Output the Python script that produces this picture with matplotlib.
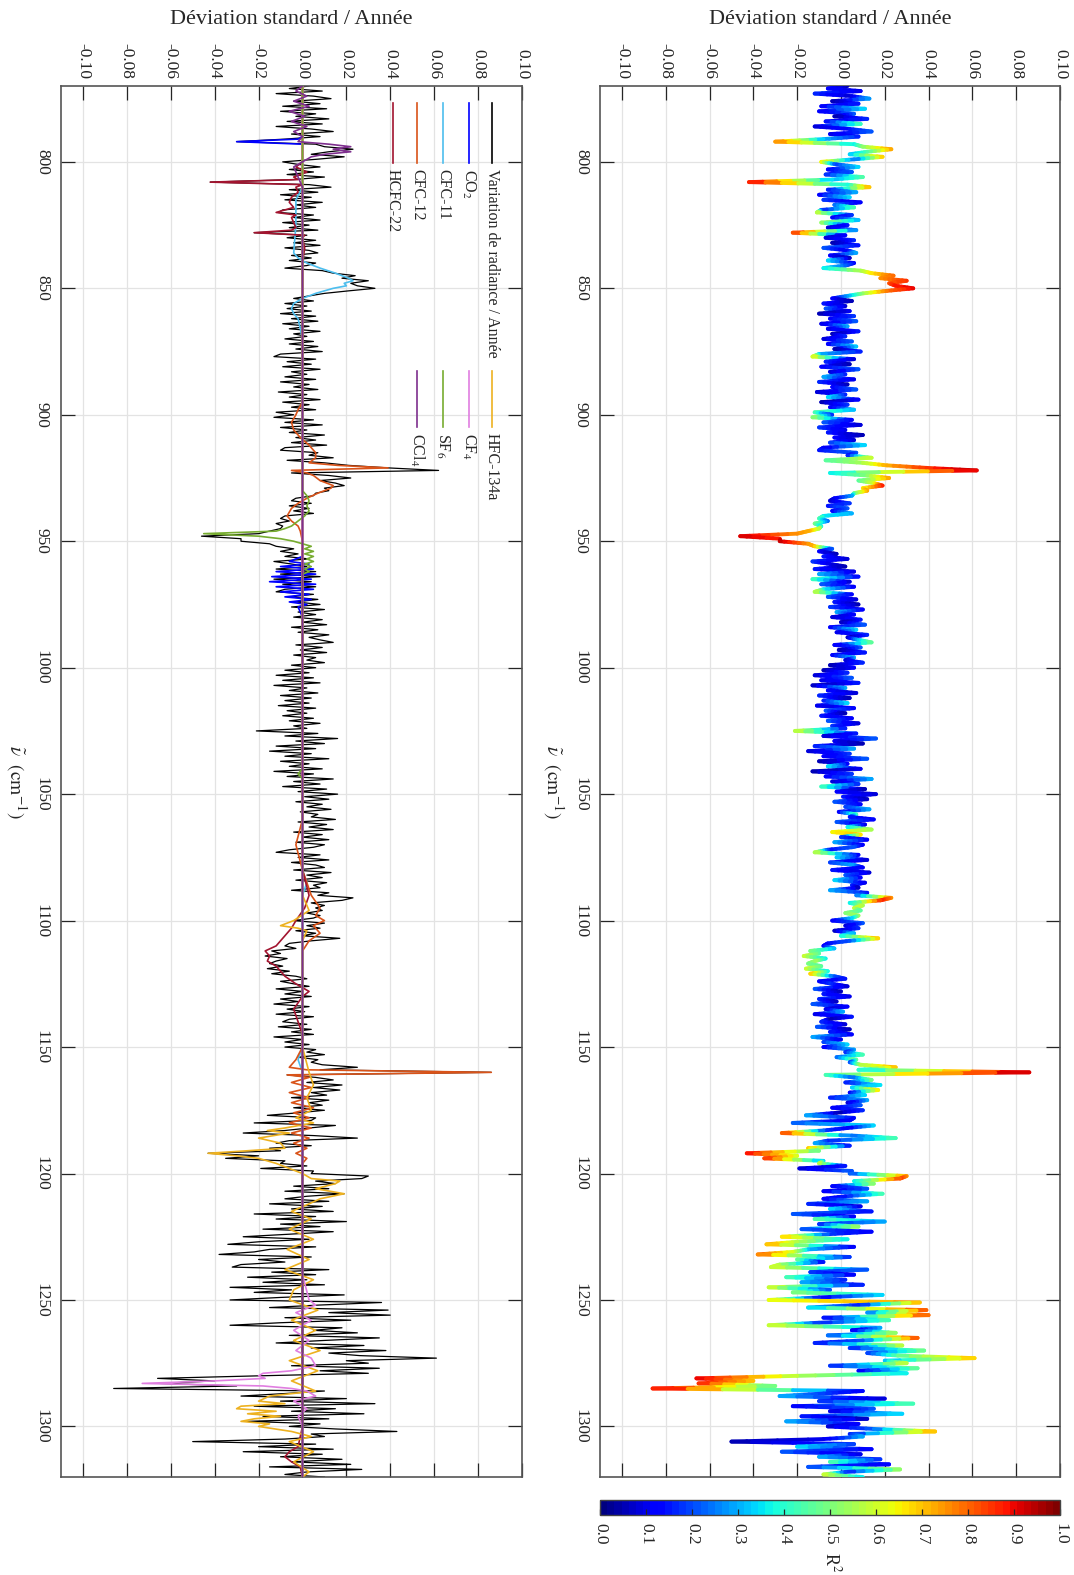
import numpy as np
import matplotlib
matplotlib.use('Agg')
import matplotlib.pyplot as plt
from matplotlib.collections import LineCollection
from matplotlib.lines import Line2D
from matplotlib.colors import Normalize
from matplotlib.cm import ScalarMappable

plt.rcParams['font.family'] = ['Liberation Serif', 'DejaVu Serif']
plt.rcParams['mathtext.fontset'] = 'stix'
plt.rcParams['axes.unicode_minus'] = False

# ---------------- DATA ----------------
# wavenumber sampling (cm^-1), 1 cm^-1 steps
wavenumber = np.arange(770, 1321, 1)

# radiance variation / year, in units of 1e-3 (one value per wavenumber)
radiance_milli = [
    3, -6, 9, -12, 5, 13, -4, 8, -9, 11,            # 770
    -10, 6, -3, 12, -7, 9, -12, 4, 14, -5,          # 780
    8, -8, -30, 6, 10, 23, 12, 4, 19, 6,            # 790
    -9, -2, 8, -6, 5, -7, 10, -4, -42, 3,           # 800
    13, -6, 7, -10, 4, -8, 9, -3, 6, -9,            # 810
    -11, 5, -4, 8, -9, 3, -6, 7, -22, 2,            # 820
    -7, 6, -4, 8, -8, 3, 7, -5, 4, -6,              # 830
    6, 2, -8, 9, 14, 24, 18, 30, 22, 25,            # 840
    33, 21, 10, 3, -4, 5, -8, 2, -7, 4,             # 850
    -10, 6, -5, 7, -9, 3, -6, 8, -4, 2,             # 860
    -8, 5, -6, 7, -3, 9, -10, -13, 6, -7,           # 870
    4, -9, 8, -5, 2, -8, 6, -10, 3, -4,             # 880
    7, -11, 2, -6, 8, -9, 3, -5, 6, -12,            # 890
    -4, -13, 5, -8, 9, -10, 2, -6, 10, -3,          # 900
    6, -5, 11, -8, -10, 7, 3, 14, -7, 10,           # 910
    21, 39, 62, -5, 12, 22, 8, 15, 19, 10,          # 920
    12, 6, 5, -3, -5, 4, -6, 3, -4, 5,              # 930
    -8, -10, -6, -12, -9, -10, -15, -20, -46, -28,  # 940
    -28, -15, -12, -4, -10, -2, -8, 3, -13, -5,     # 950
    2, -12, 6, -10, 8, -13, 4, -9, 6, -8,           # 960
    -12, 5, -6, 7, -3, 8, -5, 10, -2, 6,            # 970
    -4, 9, 0, 11, -5, 7, -2, 12, 3, 8,              # 980
    14, -3, 9, -1, 11, -4, 6, 2, 10, -5,            # 990
    6, -8, 3, -12, 5, -9, 8, -13, 2, -6,            # 1000
    7, -10, 4, -8, 3, -11, 6, -7, 2, -9,            # 1010
    5, -6, 8, -4, 2, -21, 7, -8, 16, -3,            # 1020
    10, -12, 6, -15, 4, -8, 12, -10, 3, -6,         # 1030
    9, -13, 5, -7, 14, -4, 8, -9, 11, -2,           # 1040
    16, 1, 12, -3, 9, 2, 13, -1, 7, 4,              # 1050
    15, -2, 11, 3, 14, -4, 9, 0, 12, -3,            # 1060
    10, 5, -6, -12, 8, -2, 12, -5, 6, 10,           # 1070
    -4, 13, 2, 9, -3, 11, 5, 8, -5, 12,             # 1080
    7, 23, 18, 4, 10, 6, 9, 2, 8, 5,                # 1090
    -4, 10, 2, 8, -3, 6, 0, 17, 4, -6,              # 1100
    -8, -3, -14, -10, -17, -7, -12, -15, -9, -16,   # 1110
    -6, -14, -3, 2, -10, -4, 3, -12, 0, -8,         # 1120
    4, -10, -2, -13, 3, -7, 1, -12, 5, -6,          # 1130
    -9, 2, -11, 4, -5, 5, -13, 0, -8, 3,            # 1140
    -8, 6, 2, 10, -2, 7, 4, 9, 25, 8,               # 1150
    86, -7, 6, 14, 2, 18, 5, 17, 4, 11,             # 1160
    -5, 12, 3, 9, -4, 10, -2, -16, 6, 4,            # 1170
    -22, 15, 3, -8, -27, 5, 25, -6, -12, 4,         # 1180
    -15, -10, -43, -20, -35, -8, -10, 2, -19, 5,    # 1190
    4, 30, 27, 6, 15, -4, 12, -8, 19, 2,            # 1200
    -8, 12, -15, 9, -5, 14, -22, 6, -12, 20,        # 1210
    -10, 8, -18, 14, -6, -27, 3, -20, -34, 6,       # 1220
    -15, -22, -38, 4, -20, -8, -28, -32, 12, -14,   # 1230
    6, -25, 2, -18, 10, -33, -5, -22, 19, -10,      # 1240
    -33, 36, 8, -15, 39, 12, 40, -8, 22, -10,       # 1250
    -33, 18, 5, 25, -6, 35, 10, -12, 28, 4,         # 1260
    38, 12, 26, 61, 20, 30, -5, 35, 8, 30,          # 1270
    -20, -66, -40, -65, -30, -86, 10, -8, -28, 20,  # 1280
    -10, 33, -22, 15, -5, 28, -18, 12, -25, 8,      # 1290
    -6, 15, 43, 4, 10, -8, -50, 6, -20, 14,         # 1300
    -27, 9, -10, 18, -5, 22, -15, 27, 2, -8,        # 1310
    10,                                             # 1320
]

# coefficient of determination R^2 (one value per wavenumber)
r_squared = [
    0.05, 0.12, 0.10, 0.18, 0.08, 0.30, 0.05, 0.15, 0.12, 0.35,
    0.10, 0.22, 0.05, 0.16, 0.12, 0.45, 0.08, 0.14, 0.22, 0.10,
    0.15, 0.30, 0.78, 0.35, 0.50, 0.75, 0.45, 0.30, 0.72, 0.22,
    0.68, 0.18, 0.35, 0.12, 0.22, 0.15, 0.45, 0.30, 0.92, 0.35,
    0.75, 0.15, 0.30, 0.12, 0.35, 0.18, 0.10, 0.22, 0.45, 0.15,
    0.60, 0.18, 0.12, 0.30, 0.55, 0.15, 0.08, 0.22, 0.88, 0.12,
    0.08, 0.18, 0.05, 0.15, 0.22, 0.10, 0.30, 0.12, 0.05, 0.35,
    0.12, 0.22, 0.35, 0.55, 0.65, 0.80, 0.75, 0.85, 0.82, 0.88,
    0.90, 0.80, 0.55, 0.30, 0.12, 0.05, 0.15, 0.08, 0.22, 0.10,
    0.05, 0.18, 0.12, 0.22, 0.08, 0.30, 0.10, 0.15, 0.05, 0.18,
    0.08, 0.22, 0.12, 0.35, 0.05, 0.15, 0.30, 0.65, 0.08, 0.18,
    0.05, 0.12, 0.22, 0.08, 0.15, 0.30, 0.10, 0.18, 0.05, 0.12,
    0.22, 0.08, 0.15, 0.35, 0.12, 0.05, 0.18, 0.10, 0.30, 0.45,
    0.15, 0.55, 0.12, 0.22, 0.08, 0.18, 0.10, 0.15, 0.05, 0.12,
    0.08, 0.18, 0.35, 0.10, 0.15, 0.22, 0.12, 0.60, 0.45, 0.55,
    0.72, 0.85, 0.95, 0.35, 0.50, 0.75, 0.45, 0.60, 0.88, 0.65,
    0.75, 0.50, 0.30, 0.12, 0.08, 0.18, 0.15, 0.22, 0.12, 0.30,
    0.35, 0.45, 0.22, 0.50, 0.35, 0.55, 0.72, 0.75, 0.92, 0.88,
    0.95, 0.75, 0.72, 0.22, 0.12, 0.05, 0.15, 0.08, 0.18, 0.10,
    0.05, 0.15, 0.08, 0.30, 0.12, 0.45, 0.08, 0.22, 0.10, 0.35,
    0.60, 0.12, 0.22, 0.08, 0.15, 0.05, 0.18, 0.10, 0.30, 0.12,
    0.08, 0.15, 0.05, 0.22, 0.12, 0.35, 0.10, 0.18, 0.05, 0.30,
    0.50, 0.10, 0.22, 0.05, 0.15, 0.12, 0.30, 0.08, 0.18, 0.05,
    0.12, 0.05, 0.18, 0.08, 0.22, 0.10, 0.15, 0.05, 0.30, 0.12,
    0.08, 0.18, 0.05, 0.15, 0.35, 0.10, 0.12, 0.22, 0.05, 0.15,
    0.10, 0.22, 0.08, 0.18, 0.12, 0.60, 0.15, 0.08, 0.22, 0.10,
    0.05, 0.15, 0.30, 0.08, 0.18, 0.10, 0.22, 0.05, 0.12, 0.35,
    0.10, 0.05, 0.18, 0.12, 0.30, 0.08, 0.15, 0.45, 0.05, 0.12,
    0.08, 0.15, 0.05, 0.22, 0.12, 0.18, 0.30, 0.10, 0.45, 0.15,
    0.12, 0.22, 0.08, 0.35, 0.55, 0.65, 0.70, 0.18, 0.12, 0.30,
    0.10, 0.22, 0.15, 0.60, 0.12, 0.35, 0.08, 0.18, 0.30, 0.12,
    0.15, 0.08, 0.22, 0.12, 0.35, 0.10, 0.18, 0.05, 0.30, 0.15,
    0.22, 0.75, 0.88, 0.35, 0.55, 0.60, 0.45, 0.50, 0.55, 0.35,
    0.12, 0.22, 0.08, 0.18, 0.05, 0.30, 0.35, 0.72, 0.22, 0.15,
    0.12, 0.30, 0.50, 0.45, 0.60, 0.35, 0.55, 0.50, 0.45, 0.60,
    0.35, 0.72, 0.22, 0.15, 0.12, 0.18, 0.08, 0.22, 0.05, 0.15,
    0.10, 0.18, 0.05, 0.22, 0.12, 0.08, 0.30, 0.10, 0.15, 0.05,
    0.18, 0.08, 0.22, 0.05, 0.15, 0.12, 0.30, 0.10, 0.18, 0.35,
    0.12, 0.30, 0.15, 0.45, 0.22, 0.50, 0.18, 0.55, 0.72, 0.35,
    0.95, 0.45, 0.22, 0.50, 0.15, 0.35, 0.30, 0.70, 0.12, 0.35,
    0.15, 0.30, 0.08, 0.22, 0.12, 0.18, 0.05, 0.30, 0.15, 0.10,
    0.22, 0.35, 0.12, 0.18, 0.85, 0.22, 0.45, 0.15, 0.30, 0.12,
    0.72, 0.45, 0.90, 0.60, 0.88, 0.30, 0.60, 0.15, 0.08, 0.22,
    0.18, 0.75, 0.85, 0.35, 0.55, 0.12, 0.22, 0.08, 0.45, 0.15,
    0.12, 0.30, 0.18, 0.08, 0.35, 0.15, 0.22, 0.10, 0.45, 0.30,
    0.15, 0.55, 0.22, 0.12, 0.18, 0.70, 0.35, 0.55, 0.75, 0.12,
    0.30, 0.60, 0.82, 0.15, 0.50, 0.12, 0.55, 0.62, 0.22, 0.18,
    0.10, 0.45, 0.15, 0.30, 0.12, 0.62, 0.18, 0.50, 0.35, 0.12,
    0.62, 0.75, 0.15, 0.30, 0.85, 0.22, 0.85, 0.12, 0.45, 0.15,
    0.62, 0.30, 0.08, 0.55, 0.18, 0.85, 0.22, 0.12, 0.60, 0.15,
    0.50, 0.18, 0.45, 0.72, 0.30, 0.60, 0.15, 0.50, 0.12, 0.35,
    0.55, 0.92, 0.70, 0.88, 0.45, 0.93, 0.12, 0.18, 0.30, 0.08,
    0.15, 0.45, 0.12, 0.22, 0.08, 0.35, 0.15, 0.05, 0.30, 0.12,
    0.08, 0.22, 0.75, 0.15, 0.30, 0.10, 0.05, 0.18, 0.35, 0.12,
    0.22, 0.08, 0.30, 0.15, 0.45, 0.12, 0.18, 0.55, 0.15, 0.60,
    0.35,
]

# gas contributions (wavenumber, value in 1e-3)
co2 = [(770, 0), (786, 0), (790, 0), (791, -2), (792, -30), (793, 0), (796, 0), (840, 0),
       (956, 0), (957, -3), (958, -6), (959, 3), (960, -10), (961, 5), (962, -12), (963, 6),
       (964, -14), (965, 4), (966, -15), (967, 6), (968, -12), (969, 5), (970, -10), (971, 3),
       (972, -8), (973, 4), (974, -6), (975, 2), (976, -2), (980, 0), (1320, 0)]
cfc11 = [(770, 0), (810, 0), (815, -3), (825, -3), (836, -4), (838, -2), (840, 2), (842, 8),
         (844, 15), (846, 21), (847, 23), (848, 19), (849, 20), (850, 14), (852, 6), (854, 0),
         (856, -4), (858, -5), (860, -4), (862, -2), (866, -1), (870, 0), (1080, 0), (1085, 2),
         (1090, 0), (1150, 0), (1155, -2), (1160, 0), (1320, 0)]
cfc12 = [(770, 0), (895, 0), (898, -2), (900, -3), (903, -5), (906, -4), (909, -1), (912, 3),
         (915, 6), (917, 6), (919, 3), (920, 16), (921, 39), (922, -5), (923, 2), (924, 5),
         (926, 8), (928, 14), (929, 13), (931, 7), (933, 2), (935, -2), (937, -5), (940, -7),
         (942, -5), (944, -2), (946, -1), (950, 0), (1060, 0), (1070, -3), (1080, 0), (1090, 4),
         (1095, 8), (1098, 6), (1100, 10), (1102, 5), (1105, 8), (1108, 3), (1112, 0), (1150, 0),
         (1155, -3), (1158, -6), (1159, 2), (1160, 86), (1161, -7), (1162, 3), (1164, -5),
         (1166, 4), (1168, -6), (1170, 3), (1172, -5), (1174, 5), (1176, -4), (1178, 3),
         (1180, -6), (1182, 4), (1184, -5), (1186, 3), (1188, -4), (1190, 2), (1192, -3),
         (1194, 2), (1196, 0), (1320, 0)]
hcfc22 = [(770, 0), (800, 0), (802, -3), (804, 2), (806, -4), (807, -2), (808, -42), (809, 0),
          (810, -3), (812, -2), (814, -5), (816, -6), (818, -4), (819, -8), (820, -12), (821, -3),
          (822, -5), (824, -4), (826, -3), (827, -5), (828, -22), (829, 1), (830, 0), (834, 1),
          (840, 0), (1080, 0), (1090, 3), (1095, 1), (1100, -3), (1103, -5), (1106, -8),
          (1108, -10), (1110, -12), (1112, -17), (1114, -15), (1116, -16), (1118, -12),
          (1120, -10), (1122, -8), (1125, -3), (1128, 3), (1130, 0), (1135, -4), (1140, -2),
          (1145, 0), (1300, 0), (1308, -2), (1310, -6), (1312, -8), (1314, -5), (1316, -1),
          (1320, 0)]
hfc134a = [(770, 0), (1090, 0), (1096, 3), (1100, -4), (1102, -10), (1103, -2), (1104, 2),
           (1108, 0), (1150, 0), (1160, 3), (1165, 5), (1170, 2), (1175, 4), (1178, -3),
           (1180, 5), (1182, -8), (1183, -16), (1184, -6), (1186, -20), (1188, -10), (1190, -8),
           (1191, -25), (1192, -43), (1193, -30), (1194, -20), (1196, -12), (1198, -6),
           (1200, 0), (1202, 4), (1203, 17), (1204, 15), (1206, 6), (1208, 19), (1210, 8),
           (1212, 3), (1215, -5), (1218, 4), (1222, -6), (1226, 5), (1230, -7), (1234, 3),
           (1238, -8), (1242, 5), (1246, -4), (1250, -6), (1254, 7), (1258, -5), (1262, 6),
           (1266, -4), (1270, 8), (1274, -6), (1278, 7), (1282, -5), (1286, 6), (1288, -15),
           (1290, -20), (1291, -8), (1292, -28), (1293, -30), (1294, -12), (1295, -25),
           (1296, -10), (1297, -22), (1298, -28), (1299, -15), (1300, -20), (1302, -5),
           (1304, 4), (1306, -6), (1310, 5), (1314, -4), (1318, 3), (1320, 0)]
cf4 = [(770, 0), (1240, 0), (1250, 3), (1252, 6), (1255, -3), (1258, 4), (1262, -4), (1266, 3),
       (1270, -3), (1273, 4), (1276, 6), (1278, -5), (1279, -18), (1280, -20), (1281, -17),
       (1282, -40), (1283, -73), (1284, -18), (1285, -5), (1286, 2), (1288, 6), (1290, -4),
       (1293, 2), (1296, -2), (1300, 0), (1320, 0)]
sf6 = [(770, 0), (930, 0), (932, 2), (934, 3), (936, 2), (938, 3), (940, 1), (942, -2),
       (944, -5), (945, -8), (946, -12), (947, -45), (948, -20), (949, -10), (950, -4), (951, 0),
       (952, 4), (953, 1), (954, 5), (955, 1), (956, 5), (957, 2), (958, 5), (959, 1), (960, 4),
       (961, 1), (962, 3), (963, 0), (1040, 0), (1042, -2), (1044, 0), (1320, 0)]
ccl4 = [(770, 0), (772, -3), (774, 2), (776, -4), (778, 3), (780, -6), (782, 1), (784, -5),
        (786, 2), (788, -4), (790, 0), (792, -2), (793, 12), (794, 22), (795, 14), (796, 22),
        (797, 10), (798, 4), (800, 0), (802, -4), (806, -2), (810, 0), (1320, 0)]

series_labels = ['Variation de radiance / Année', 'CO$_2$', 'CFC-11', 'CFC-12', 'HCFC-22',
                 'HFC-134a', 'CF$_4$', 'SF$_6$', 'CCl$_4$']
series_colors = ['#000000', '#0000FF', '#4DBEEE', '#D95319', '#A2142F',
                 '#EDB120', '#E07EE0', '#77AC30', '#7E2F8E']
components = [co2, cfc11, cfc12, hcfc22, hfc134a, cf4, sf6, ccl4]

dev_ticks = [-0.10, -0.08, -0.06, -0.04, -0.02, 0.00, 0.02, 0.04, 0.06, 0.08, 0.10]
dev_ticklabels = ['-0.10', '-0.08', '-0.06', '-0.04', '-0.02', '0.00', '0.02', '0.04',
                  '0.06', '0.08', '0.10']
wn_ticks = [800, 850, 900, 950, 1000, 1050, 1100, 1150, 1200, 1250, 1300]
cbar_ticks = [0.0, 0.1, 0.2, 0.3, 0.4, 0.5, 0.6, 0.7, 0.8, 0.9, 1.0]

# ---------------- FIGURE ----------------
W, H = 1074, 1575
fig = plt.figure(figsize=(W / 100, H / 100), dpi=100)


def fx(px):
    return px / W


def fy(py):
    return 1 - py / H


ax_top, ax_bot = 86, 1477
ax1 = fig.add_axes([fx(61), fy(ax_bot), (522 - 61) / W, (ax_bot - ax_top) / H])
ax2 = fig.add_axes([fx(600), fy(ax_bot), (1060 - 600) / W, (ax_bot - ax_top) / H])
cax = fig.add_axes([fx(600), fy(1515), (1060 - 600) / W, 15 / H])

TICKFS = 12.5
axis_col = '#262626'


def setup(ax):
    ax.set_xlim(-0.11, 0.10)
    ax.set_ylim(1320, 770)
    ax.set_xticks(dev_ticks)
    ax.set_xticklabels(dev_ticklabels)
    ax.set_yticks(wn_ticks)
    ax.set_yticklabels([str(t) for t in wn_ticks])
    ax.xaxis.set_ticks_position('both')
    ax.yaxis.set_ticks_position('both')
    ax.tick_params(which='major', direction='in', length=10, width=0.9,
                   colors=axis_col, labelsize=TICKFS)
    ax.tick_params(axis='x', labeltop=True, labelbottom=False, labelrotation=-90, pad=5)
    ax.tick_params(axis='y', labelleft=True, labelright=False, labelrotation=-90, pad=8)
    for lab in ax.get_yticklabels():
        lab.set_va('center')
    for lab in ax.get_xticklabels():
        lab.set_ha('center')
        lab.set_va('bottom')
    ax.grid(True, color='#e3e3e3', lw=0.9)
    ax.set_axisbelow(True)
    for sp in ax.spines.values():
        sp.set_color('#555555')
        sp.set_linewidth(1.2)


setup(ax1)
setup(ax2)

rad = np.array(radiance_milli, dtype=float) * 1e-3
r2 = np.array(r_squared, dtype=float)
n = min(len(rad), len(r2), len(wavenumber))
rad, r2, wn = rad[:n], r2[:n], wavenumber[:n].astype(float)

# left panel: radiance variation and gas contributions
ax1.plot(rad, wn, color=series_colors[0], lw=0.9, zorder=2)
for comp, col in zip(components, series_colors[1:]):
    w = np.array([p[0] for p in comp], dtype=float)
    v = np.array([p[1] for p in comp], dtype=float) * 1e-3
    ax1.plot(v, w, color=col, lw=1.2, zorder=3)

# right panel: radiance variation coloured by R^2 (colour gradient along each segment)
cmap = plt.get_cmap('jet', 64)
pts = np.column_stack([rad, wn])
nsub = 6
t = np.linspace(0, 1, nsub + 1)
d = pts[1:, None, :] - pts[:-1, None, :]
p0 = pts[:-1, None, :] + d * t[None, :-1, None]
p1 = pts[:-1, None, :] + d * t[None, 1:, None]
segs = np.stack([p0.reshape(-1, 2), p1.reshape(-1, 2)], axis=1)
tm = 0.5 * (t[:-1] + t[1:])
cvals = (r2[:-1, None] + (r2[1:, None] - r2[:-1, None]) * tm[None, :]).ravel()
lc = LineCollection(segs, cmap=cmap, norm=Normalize(0, 1), linewidths=2.8,
                    capstyle='round', zorder=3)
lc.set_array(cvals)
ax2.add_collection(lc)

# colorbar
sm = ScalarMappable(norm=Normalize(0, 1), cmap=cmap)
cb = fig.colorbar(sm, cax=cax, orientation='horizontal', ticks=cbar_ticks)
cb.ax.set_xticklabels(['%.1f' % v for v in cbar_ticks])
cax.tick_params(direction='in', length=4, width=0.9, colors=axis_col,
                labelsize=TICKFS, pad=6, labelrotation=-90)
for lab in cax.get_xticklabels():
    lab.set_ha('center')
    lab.set_va('top')
cb.outline.set_edgecolor('#444444')
cb.outline.set_linewidth(1.0)
fig.text(fx(832), fy(1562), 'R$^2$', rotation=-90, ha='center', va='center',
         fontsize=13, color=axis_col)

# axis titles
for cx in (291, 830):
    fig.text(fx(cx), fy(19), 'Déviation standard / Année', ha='center', va='center',
             fontsize=16, color=axis_col)
for lx in (16, 553):
    fig.text(fx(lx), fy(782), r'$\tilde{\nu}\ \ (\mathrm{cm}^{-1})$', rotation=-90,
             ha='center', va='center', fontsize=14, color=axis_col)

# legend (rotated, drawn manually)
LEGFS = 11.5
col_x = [492, 469, 443, 417, 393]
groups = [(range(0, 5), 103, 163, 169), (range(5, 9), 371, 427, 433)]
for idx, y0, y1, yt in groups:
    for k, i in enumerate(idx):
        x = col_x[k]
        fig.add_artist(Line2D([fx(x), fx(x)], [fy(y0), fy(y1)], color=series_colors[i],
                              lw=1.2, transform=fig.transFigure))
        fig.text(fx(x), fy(yt), series_labels[i], rotation=-90, ha='center', va='top',
                 fontsize=LEGFS, color=axis_col)

fig.savefig('out.png', dpi=100)
